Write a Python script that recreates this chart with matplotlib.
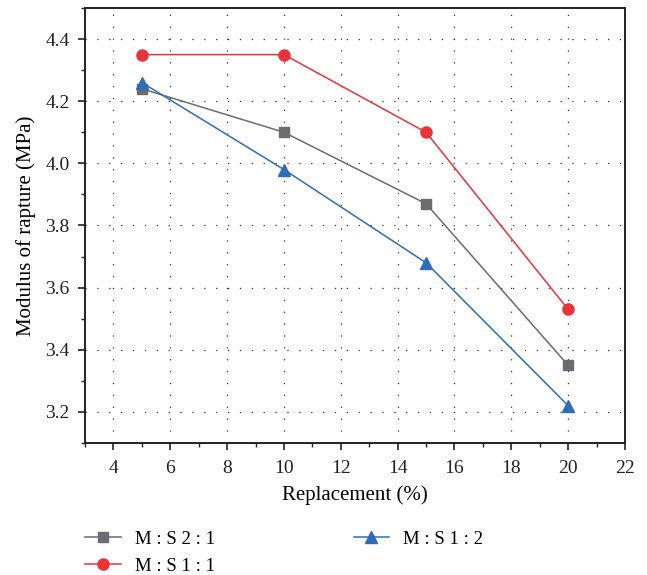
import matplotlib
matplotlib.use('Agg')
import matplotlib.pyplot as plt
import numpy as np
from matplotlib.ticker import MultipleLocator

# data
replacement = [5, 10, 15, 20]
ms_2_1 = [4.24, 4.10, 3.87, 3.35]
ms_1_1 = [4.35, 4.35, 4.10, 3.53]
ms_1_2 = [4.26, 3.98, 3.68, 3.22]
labels = ['M : S 2 : 1', 'M : S 1 : 1', 'M : S 1 : 2']

plt.rcParams['font.family'] = ['Liberation Serif', 'DejaVu Serif']

fig = plt.figure(figsize=(6.47, 5.75), dpi=100)
ax = fig.add_axes([0.1314, 0.2296, 0.8346, 0.7565])

ax.plot(replacement, ms_2_1, color='#6b6b70', marker='s', markersize=7, lw=1.1, label=labels[0])
ax.plot(replacement, ms_1_1, color='#e8333a', marker='o', markersize=8, lw=1.1, label=labels[1])
ax.plot(replacement, ms_1_2, color='#2f6db8', marker='^', markersize=9, lw=1.1, label=labels[2])

ax.set_xlim(3, 22)
ax.set_ylim(3.1, 4.5)
ax.xaxis.set_minor_locator(MultipleLocator(1))
ax.yaxis.set_minor_locator(MultipleLocator(0.1))
ax.set_xticks(np.arange(4, 23, 2))
ax.set_yticks([3.2, 3.4, 3.6, 3.8, 4.0, 4.2, 4.4])
ax.set_yticklabels(['3.2', '3.4', '3.6', '3.8', '4.0', '4.2', '4.4'])

ax.grid(True, which='major', color='#333333', linestyle=(0, (1, 8.5)), lw=0.9)
ax.tick_params(which='major', direction='out', length=5, width=1.2, labelsize=14, colors='#222222')
ax.tick_params(axis='x', which='major', pad=7)
ax.tick_params(axis='y', which='major', pad=6)
ax.tick_params(which='minor', direction='out', length=3, width=1.0, colors='#222222')
for sp in ax.spines.values():
    sp.set_linewidth(1.4)
    sp.set_color('#222222')

ax.set_xlabel('Replacement (%)', fontsize=15, labelpad=6)
ax.set_ylabel('Modulus of rapture (MPa)', fontsize=15, labelpad=7)

fig.legend(loc='upper left', bbox_to_anchor=(0.1055, 0.106), ncol=2, frameon=False,
           fontsize=13.5, handlelength=1.9, handletextpad=0.75, columnspacing=7.4,
           labelspacing=0.5, borderpad=0.4)

fig.savefig('out.png', dpi=100)
